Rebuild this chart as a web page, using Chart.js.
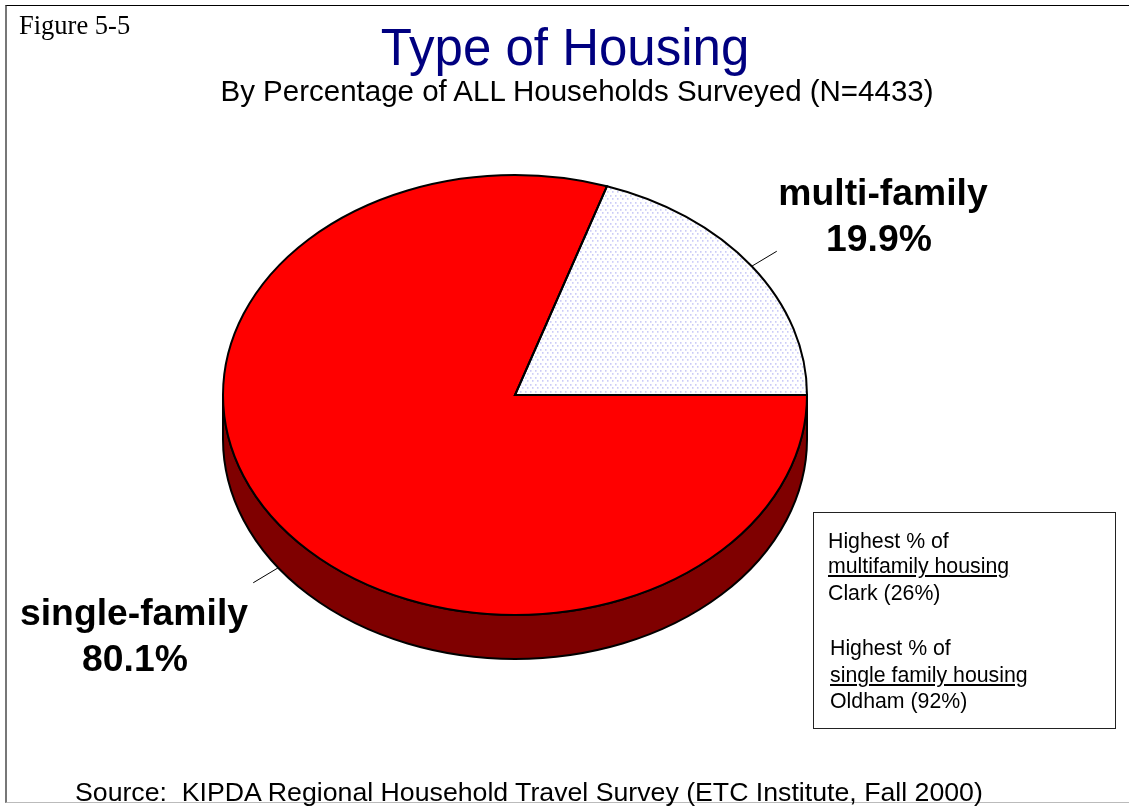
<!DOCTYPE html>
<html><head><meta charset="utf-8">
<script src="https://cdn.jsdelivr.net/npm/chart.js@4"></script>
<style>
html,body{margin:0;padding:0;background:#fff;overflow:hidden}
#wrap{position:relative;width:1129px;height:806px;overflow:hidden}
canvas{position:absolute;left:0;top:0}
.t{position:absolute;white-space:nowrap;font-family:"Liberation Sans",Arial,sans-serif;color:#000;line-height:1}
.c{transform:translateX(-50%)}
.b{font-size:21.3px}
#frame{position:absolute;left:5px;top:5px;width:1130px;height:798px;border-left:2px solid #777;border-top:1.5px solid #000;border-bottom:1px solid #bbb;box-sizing:border-box}
#box{position:absolute;left:813px;top:512px;width:303px;height:217px;border:1.5px solid #222;box-sizing:border-box}
</style></head><body>
<div id="wrap">
<div id="frame"></div>
<canvas id="c" width="1129" height="806"></canvas>
<div id="box"></div>
<div class="t" style="left:19px;top:10px;font:26.5px 'Liberation Serif',serif">Figure 5-5</div>
<div class="t c" style="left:565px;top:22px;font-size:51px;color:#000080">Type of Housing</div>
<div class="t c" style="left:577px;top:76px;font-size:29.5px">By Percentage of ALL Households Surveyed (N=4433)</div>
<div class="t c" id="lab0a" style="left:883px;top:169px;font-size:37.3px;font-weight:bold;line-height:46px"></div>
<div class="t c" id="lab0b" style="left:879px;top:215px;font-size:37.3px;font-weight:bold;line-height:46px"></div>
<div class="t c" id="lab1a" style="left:134px;top:589px;font-size:37.3px;font-weight:bold;line-height:46px"></div>
<div class="t c" id="lab1b" style="left:135px;top:635px;font-size:37.3px;font-weight:bold;line-height:46px"></div>
<div class="t" style="left:75px;top:779px;font-size:26.7px">Source:&nbsp; KIPDA Regional Household Travel Survey (ETC Institute, Fall 2000)</div>
<div class="t b" style="left:828px;top:531px">Highest % of</div>
<div class="t b" style="left:828px;top:556px"><u>multifamily housing</u></div>
<div class="t b" style="left:828px;top:583px">Clark (26%)</div>
<div class="t b" style="left:830px;top:638px">Highest % of</div>
<div class="t b" style="left:830px;top:665px"><u>single family housing</u></div>
<div class="t b" style="left:830px;top:691px">Oldham (92%)</div>
</div>
<script>
const categories = ['multi-family', 'single-family'];
const shares = [19.9, 80.1];
const sliceColors = ['#ffffff', '#ff0000'];
const sideColor = '#7f0000';

const RX = 292, RY = 220, DEPTH = 44;
const squash = RY / RX;
const startDeg = 90 - shares[0] * 3.6;

function dotPattern() {
  const p = document.createElement('canvas');
  p.width = 5; p.height = 7;
  const g = p.getContext('2d');
  g.fillStyle = '#ffffff'; g.fillRect(0, 0, 5, 7);
  g.fillStyle = '#a4a4f2';
  g.fillRect(0, 0, 1, 1); g.fillRect(2, 3, 1, 1);
  g.fillStyle = '#d0d0f8';
  g.fillRect(1, 0, 1, 1); g.fillRect(3, 3, 1, 1);
  const pat = document.getElementById('c').getContext('2d').createPattern(p, 'repeat');
  pat.setTransform(new DOMMatrix().scale(1, 1 / squash));
  return pat;
}

document.getElementById('lab0a').textContent = categories[0];
document.getElementById('lab0b').textContent = shares[0].toFixed(1) + '%';
document.getElementById('lab1a').textContent = categories[1];
document.getElementById('lab1b').textContent = shares[1].toFixed(1) + '%';

function squashAbout(ctx, a) {
  ctx.translate(a.x, a.y);
  ctx.scale(1, squash);
  ctx.translate(-a.x, -a.y);
}

const pie3d = {
  id: 'pie3d',
  beforeDatasetDraw(chart) {
    const ctx = chart.ctx, arcs = chart.getDatasetMeta(0).data, a = arcs[0];
    const R = a.outerRadius, ry = R * squash;
    ctx.save();
    ctx.beginPath();
    ctx.moveTo(a.x + R, a.y);
    ctx.lineTo(a.x + R, a.y + DEPTH);
    ctx.ellipse(a.x, a.y + DEPTH, R, ry, 0, 0, Math.PI, false);
    ctx.lineTo(a.x - R, a.y);
    ctx.ellipse(a.x, a.y, R, ry, 0, Math.PI, 0, true);
    ctx.closePath();
    ctx.fillStyle = sideColor;
    ctx.fill();
    ctx.lineWidth = 2;
    ctx.strokeStyle = '#000';
    ctx.stroke();
    ctx.restore();
    ctx.save();
    squashAbout(ctx, a);
  },
  afterDatasetDraw(chart) {
    const ctx = chart.ctx, arcs = chart.getDatasetMeta(0).data;
    ctx.restore();
    arcs.forEach((a, i) => {
      ctx.save();
      ctx.beginPath();
      ctx.save();
      squashAbout(ctx, a);
      ctx.moveTo(a.x, a.y);
      ctx.arc(a.x, a.y, a.outerRadius, a.startAngle, a.endAngle);
      ctx.closePath();
      ctx.restore();
      ctx.lineWidth = 2;
      ctx.strokeStyle = '#000';
      ctx.stroke();
      ctx.restore();
      // leader line from the middle of the slice's rim
      const mid = (a.startAngle + a.endAngle) / 2;
      const px = a.x + a.outerRadius * Math.cos(mid);
      const front = Math.sin(mid) > 0;
      const py = a.y + a.outerRadius * squash * Math.sin(mid) + (front ? DEPTH : 0);
      const dx = Math.cos(mid) >= 0 ? 25 : -25, dy = front ? 15 : -15;
      ctx.save();
      ctx.beginPath();
      ctx.moveTo(px, py);
      ctx.lineTo(px + dx, py + dy);
      ctx.lineWidth = 1;
      ctx.strokeStyle = '#000';
      ctx.stroke();
      ctx.restore();
    });
  }
};

new Chart(document.getElementById('c'), {
  type: 'pie',
  data: {
    labels: categories,
    datasets: [{
      data: shares,
      backgroundColor: [dotPattern(), sliceColors[1]],
      borderWidth: 0,
      clip: false
    }]
  },
  options: {
    responsive: false,
    animation: false,
    rotation: startDeg,
    layout: { padding: { left: 223, right: 322, top: 103, bottom: 119 } },
    plugins: { legend: { display: false }, tooltip: { enabled: false }, title: { display: false } }
  },
  plugins: [pie3d]
});
</script>
</body></html>
